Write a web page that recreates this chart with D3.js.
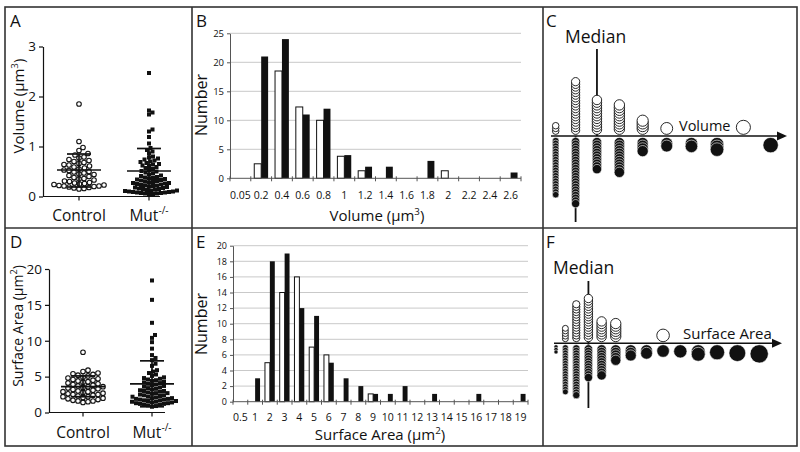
<!DOCTYPE html>
<html><head><meta charset="utf-8">
<script src="https://cdn.jsdelivr.net/npm/d3@7"></script>
<style>
body{margin:0;background:#fff}
svg{display:block}
text{font-family:'Open Sans',sans-serif;fill:#111}
</style></head>
<body><svg id="c" width="800" height="452"></svg>
<script>
// ---------------- DATA ----------------
const groups = ["Control", "Mut"];
const volTicks = [0, 1, 2, 3];
const saTicks = [0, 5, 10, 15, 20];

const controlVolume = [1.85,1.10,0.98,0.92,0.86,0.83,0.79,0.77,0.74,0.72,0.70,0.68,0.66,0.64,0.63,0.61,0.59,0.57,0.55,0.53,0.52,0.50,0.49,0.47,0.45,0.44,0.42,0.40,0.38,0.36,0.35,0.33,0.31,0.30,0.28,0.27,0.26,0.25,0.24,0.23,0.22,0.21,0.21,0.20,0.19,0.18,0.17,0.16,0.15];
const mutVolume = [2.47,1.72,1.68,1.64,1.34,1.30,1.19,1.06,0.97,0.93,0.90,0.86,0.80,0.78,0.76,0.74,0.72,0.70,0.69,0.67,0.65,0.64,0.62,0.61,0.59,0.57,0.55,0.53,0.51,0.50,0.48,0.46,0.44,0.42,0.41,0.39,0.38,0.37,0.36,0.35,0.34,0.33,0.32,0.31,0.30,0.29,0.28,0.27,0.27,0.26,0.25,0.24,0.23,0.22,0.22,0.21,0.20,0.19,0.18,0.17,0.16,0.15,0.15,0.14,0.13,0.12,0.12,0.11,0.10,0.10,0.09,0.09,0.08,0.08,0.07,0.07,0.06,0.06,0.05,0.05];
// [lower, mean, upper]
const controlVolStats = [0.19, 0.53, 0.85];
const mutVolStats = [0.08, 0.51, 0.96];

const controlSA = [8.4,5.9,5.7,5.5,5.4,5.3,5.2,5.1,4.9,4.8,4.7,4.6,4.5,4.4,4.3,4.2,4.1,4.0,3.9,3.8,3.7,3.6,3.6,3.5,3.4,3.3,3.2,3.1,3.0,2.9,2.9,2.8,2.7,2.6,2.5,2.5,2.4,2.3,2.2,2.2,2.1,2.0,1.9,1.8,1.7,1.6,1.6,1.5,1.4];
const mutSA = [18.4,15.7,12.5,10.8,10.4,9.8,8.9,8.0,7.6,7.3,6.8,6.5,5.9,5.7,5.5,5.3,5.1,4.9,4.8,4.7,4.6,4.5,4.4,4.3,4.2,4.1,4.0,3.9,3.8,3.7,3.6,3.5,3.4,3.3,3.2,3.1,3.0,3.0,2.9,2.8,2.7,2.7,2.6,2.5,2.4,2.4,2.3,2.2,2.2,2.1,2.0,2.0,1.9,1.9,1.8,1.8,1.7,1.7,1.6,1.6,1.5,1.5,1.4,1.4,1.3,1.3,1.2,1.2,1.1,1.1,1.0,0.9,0.8];
const controlSAStats = [2.2, 3.6, 5.1];
const mutSAStats = [0.8, 4.0, 7.2];

const volCats = ["0.05","0.2","0.4","0.6","0.8","1","1.2","1.4","1.6","1.8","2","2.2","2.4","2.6"];
const volControlCounts = [0,2.5,18.5,12.3,10,3.8,1.3,0,0,0,1.3,0,0,0];
const volMutCounts = [0,21,24,11,12,4,2,2,0,3,0,0,0,1];
const volCountTicks = [0,5,10,15,20,25];

const saCats = ["0.5","1","2","3","4","5","6","7","8","9","10","11","12","13","14","15","16","17","18","19"];
const saControlCounts = [0,0,5,14,16,7,6,0,0,1,0,0,0,0,0,0,0,0,0,0];
const saMutCounts = [0,3,18,19,12,11,5,3,2,1,1,2,0,1,0,0,1,0,0,1];
const saCountTicks = [0,2,4,6,8,10,12,14,16,18,20];

// ---------------- HELPERS ----------------
const svg = d3.select("#c");

function rich(t, parts, fs) {
  let up = false;
  parts.forEach(([s, sup]) => {
    const ts = t.append("tspan").text(s);
    if (sup && !up) { ts.attr("dy", -fs * 0.42).attr("font-size", fs * 0.65); up = true; }
    else if (sup) { ts.attr("font-size", fs * 0.65); }
    else if (!sup && up) { ts.attr("dy", fs * 0.42); up = false; }
  });
}

function swarm(values, y, cx, d) {
  const pts = values.map(v => ({ v, y: y(v) })).sort((a, b) => b.y - a.y);
  const placed = [];
  pts.forEach(p => {
    for (let k = 0; k < 400; k++) {
      const off = (k % 2 ? 1 : -1) * Math.ceil(k / 2) * 0.5;
      const x = cx + off;
      if (placed.every(q => { const dy = q.y - p.y, dx = q.x - x; return dx * dx + dy * dy >= d * d; })) { p.x = x; break; }
    }
    placed.push(p);
  });
  return placed;
}

// ---------------- FRAME ----------------
const frame = svg.append("g").attr("stroke", "#333").attr("stroke-width", 1.6).attr("fill", "none");
frame.append("rect").attr("x", 5).attr("y", 7).attr("width", 792).attr("height", 439);
frame.append("line").attr("x1", 192).attr("x2", 192).attr("y1", 7).attr("y2", 446);
frame.append("line").attr("x1", 543).attr("x2", 543).attr("y1", 7).attr("y2", 446);
frame.append("line").attr("x1", 5).attr("x2", 797).attr("y1", 228).attr("y2", 228);

const letters = [["A", 10, 27], ["B", 196, 27], ["C", 546, 27], ["D", 10, 248], ["E", 196, 248], ["F", 546, 248]];
svg.selectAll("text.letter").data(letters).join("text").attr("class", "letter")
  .attr("x", d => d[1]).attr("y", d => d[2]).attr("font-size", 17).text(d => d[0]);

// ---------------- SCATTER PANELS (A, D) ----------------
function scatterPanel(cfg) {
  const g = svg.append("g");
  const y = d3.scaleLinear().domain([0, cfg.ticks[cfg.ticks.length - 1]]).range([cfg.y0, cfg.y1]);
  const x = d3.scalePoint().domain(groups).range([cfg.cx0, cfg.cx1]);
  // y axis
  g.append("g").attr("transform", `translate(${cfg.ax},0)`)
    .call(d3.axisLeft(y).tickValues(cfg.ticks).tickFormat(d3.format("d")).tickSize(4).tickSizeOuter(0))
    .call(s => { s.selectAll("text").attr("font-size", 13.5).attr("font-family", "'Open Sans',sans-serif").attr("fill", "#111"); s.selectAll("line,path").attr("stroke", "#111").attr("stroke-width", 1.2); });
  // x axis
  g.append("line").attr("x1", cfg.ax).attr("x2", cfg.axEnd).attr("y1", y(0)).attr("y2", y(0)).attr("stroke", "#111").attr("stroke-width", 1.2);
  g.selectAll("line.xt").data(groups).join("line").attr("class", "xt")
    .attr("x1", d => x(d)).attr("x2", d => x(d)).attr("y1", y(0)).attr("y2", y(0) + 4).attr("stroke", "#111").attr("stroke-width", 1.2);
  const lab = g.selectAll("text.cat").data(groups).join("text").attr("class", "cat")
    .attr("x", d => x(d)).attr("y", cfg.labY).attr("text-anchor", "middle").attr("font-size", 15.5);
  lab.each(function (d) {
    const t = d3.select(this);
    if (d === "Mut") rich(t, [["Mut", 0], ["-/-", 1]], 15.5); else t.text(d);
  });
  // y title
  const yt = g.append("text").attr("transform", `translate(${cfg.titleX},${cfg.titleY}) rotate(-90)`)
    .attr("text-anchor", "middle").attr("font-size", cfg.titleFs);
  rich(yt, cfg.title, cfg.titleFs);
  // points
  const cp = swarm(cfg.control, y, x("Control"), 5.0);
  g.selectAll("circle.pc").data(cp).join("circle").attr("class", "pc")
    .attr("cx", d => d.x).attr("cy", d => d.y).attr("r", 2.3)
    .attr("fill", "#fff").attr("stroke", "#111").attr("stroke-width", 1.1);
  const mp = swarm(cfg.mut, y, x("Mut"), 3.9);
  g.selectAll("rect.pm").data(mp).join("rect").attr("class", "pm")
    .attr("x", d => d.x - 2).attr("y", d => d.y - 2).attr("width", 4).attr("height", 4).attr("fill", "#111");
  // error bars
  [["Control", cfg.cStats], ["Mut", cfg.mStats]].forEach(([grp, st]) => {
    const cx = x(grp);
    const e = g.append("g").attr("stroke", "#111").attr("stroke-width", 1.7);
    e.append("line").attr("x1", cx).attr("x2", cx).attr("y1", y(st[0])).attr("y2", y(st[2]));
    e.append("line").attr("x1", cx - 22).attr("x2", cx + 22).attr("y1", y(st[1])).attr("y2", y(st[1]));
    e.append("line").attr("x1", cx - 12).attr("x2", cx + 12).attr("y1", y(st[0])).attr("y2", y(st[0]));
    e.append("line").attr("x1", cx - 12).attr("x2", cx + 12).attr("y1", y(st[2])).attr("y2", y(st[2]));
  });
}

scatterPanel({ ticks: volTicks, y0: 196.5, y1: 46.5, ax: 43, axEnd: 160, cx0: 79, cx1: 149, labY: 221,
  control: controlVolume, mut: mutVolume, cStats: controlVolStats, mStats: mutVolStats,
  title: [["Volume (μm", 0], ["3", 1], [")", 0]], titleX: 24, titleY: 106, titleFs: 15 });
scatterPanel({ ticks: saTicks, y0: 412.5, y1: 269, ax: 49, axEnd: 165, cx0: 83, cx1: 152, labY: 438,
  control: controlSA, mut: mutSA, cStats: controlSAStats, mStats: mutSAStats,
  title: [["Surface Area (μm", 0], ["2", 1], [")", 0]], titleX: 23, titleY: 326, titleFs: 14 });

// ---------------- HISTOGRAMS (B, E) ----------------
function histPanel(cfg) {
  const g = svg.append("g");
  const x = d3.scaleBand().domain(cfg.cats).range([cfg.x0, cfg.x1]).paddingInner(0).paddingOuter(0);
  const sub = d3.scaleBand().domain(["c", "m"]).range([0, x.bandwidth()]).paddingInner(0).paddingOuter(0.5);
  const y = d3.scaleLinear().domain([0, cfg.ticks[cfg.ticks.length - 1]]).range([cfg.y0, cfg.y1]);
  g.selectAll("line.grid").data(cfg.ticks.slice(1)).join("line").attr("class", "grid")
    .attr("x1", cfg.x0).attr("x2", cfg.x1).attr("y1", d => y(d)).attr("y2", d => y(d))
    .attr("stroke", "#c9c9c9").attr("stroke-width", 1);
  g.append("g").attr("transform", `translate(${cfg.x0},0)`)
    .call(d3.axisLeft(y).tickValues(cfg.ticks).tickSize(3).tickSizeOuter(0))
    .call(s => { s.selectAll("text").attr("font-size", cfg.yFs).attr("font-family", "'Open Sans',sans-serif").attr("fill", "#222"); s.selectAll("line,path").attr("stroke", "#555").attr("stroke-width", 1); });
  const rows = cfg.cats.map((c, i) => ({ c, ctrl: cfg.ctrl[i], mut: cfg.mut[i] }));
  g.selectAll("rect.bc").data(rows.filter(d => d.ctrl > 0)).join("rect").attr("class", "bc")
    .attr("x", d => x(d.c) + sub("c")).attr("width", sub.bandwidth())
    .attr("y", d => y(d.ctrl)).attr("height", d => y(0) - y(d.ctrl))
    .attr("fill", "#fff").attr("stroke", "#111").attr("stroke-width", 1);
  g.selectAll("rect.bm").data(rows.filter(d => d.mut > 0)).join("rect").attr("class", "bm")
    .attr("x", d => x(d.c) + sub("m")).attr("width", sub.bandwidth())
    .attr("y", d => y(d.mut)).attr("height", d => y(0) - y(d.mut))
    .attr("fill", "#111");
  g.append("line").attr("x1", cfg.x0).attr("x2", cfg.x1).attr("y1", y(0)).attr("y2", y(0)).attr("stroke", "#555").attr("stroke-width", 1);
  const bounds = cfg.cats.map(c => x(c)).concat([cfg.x1]);
  g.selectAll("line.xt").data(bounds).join("line").attr("class", "xt")
    .attr("x1", d => d).attr("x2", d => d).attr("y1", y(0) - 2).attr("y2", y(0) + 3).attr("stroke", "#555").attr("stroke-width", 1);
  g.selectAll("text.xl").data(cfg.cats).join("text").attr("class", "xl")
    .attr("x", d => x(d) + x.bandwidth() / 2).attr("y", cfg.labY).attr("text-anchor", "middle")
    .attr("font-size", cfg.xFs).attr("fill", "#222").text(d => d);
  const xt = g.append("text").attr("x", cfg.titleX).attr("y", cfg.titleY).attr("text-anchor", "middle").attr("font-size", 15);
  rich(xt, cfg.title, 15);
  g.append("text").attr("transform", `translate(${cfg.yTitleX},${cfg.yTitleY}) rotate(-90)`)
    .attr("text-anchor", "middle").attr("font-size", 16).text("Number");
}

histPanel({ cats: volCats, ctrl: volControlCounts, mut: volMutCounts, ticks: volCountTicks,
  x0: 230, x1: 521, y0: 178.3, y1: 33.3, labY: 199, yFs: 9.5, xFs: 10.5,
  title: [["Volume (μm", 0], ["3", 1], [")", 0]], titleX: 377, titleY: 221, yTitleX: 207, yTitleY: 105 });
histPanel({ cats: saCats, ctrl: saControlCounts, mut: saMutCounts, ticks: saCountTicks,
  x0: 233, x1: 528, y0: 401.7, y1: 245.7, labY: 421, yFs: 9, xFs: 10.5,
  title: [["Surface Area (μm", 0], ["2", 1], [")", 0]], titleX: 380, titleY: 440, yTitleX: 207, yTitleY: 324 });

// ---------------- DOT STACK SCHEMATICS (C, F) ----------------
function stackPanel(cfg) {
  const g = svg.append("g");
  const cols = cfg.cats.map((c, i) => ({ v: +c, c: Math.round(cfg.ctrl[i]), m: Math.round(cfg.mut[i]), i }))
    .filter(d => d.c > 0 || d.m > 0);
  let x = cfg.x0;
  cols.forEach((d, k) => { d.r = cfg.rScale(d.v); if (k > 0) x += cols[k - 1].r + d.r + cfg.gap; d.x = x; });
  function medianIdx(arr) {
    const tot = d3.sum(arr); let cum = 0;
    for (let i = 0; i < arr.length; i++) { cum += arr[i]; if (cum > tot / 2) return i; }
  }
  const mc = cols.find(d => d.i === medianIdx(cfg.ctrl));
  const mm = cols.find(d => d.i === medianIdx(cfg.mut));
  g.append("line").attr("x1", mc.x).attr("x2", mc.x).attr("y1", cfg.axisY).attr("y2", cfg.medTop).attr("stroke", "#111").attr("stroke-width", 1.8);
  g.append("line").attr("x1", mm.x).attr("x2", mm.x).attr("y1", cfg.axisY).attr("y2", cfg.medBot).attr("stroke", "#111").attr("stroke-width", 1.8);
  g.append("text").attr("x", cfg.medX).attr("y", cfg.medY).attr("font-size", 17.5).text("Median");
  g.append("line").attr("x1", cfg.ax1).attr("x2", cfg.ax2 - 6).attr("y1", cfg.axisY).attr("y2", cfg.axisY).attr("stroke", "#111").attr("stroke-width", 1.6);
  g.append("path").attr("d", `M${cfg.ax2},${cfg.axisY} l-10,-4.5 l0,9 z`).attr("fill", "#111");
  g.append("text").attr("x", cfg.labX).attr("y", cfg.labY).attr("font-size", cfg.labFs).text(cfg.label);
  const step = cfg.step;
  cols.forEach(d => {
    for (let k = 0; k < d.c; k++) {
      g.append("circle").attr("cx", d.x).attr("cy", cfg.axisY - 1.6 - d.r - k * step).attr("r", d.r)
        .attr("fill", "#fff").attr("stroke", "#111").attr("stroke-width", 0.9);
    }
    for (let k = 0; k < d.m; k++) {
      g.append("circle").attr("cx", d.x).attr("cy", cfg.axisY + 1.4 + d.r + k * step).attr("r", d.r)
        .attr("fill", "#111").attr("stroke", "#fff").attr("stroke-width", 0.6);
    }
  });
}

stackPanel({ cats: volCats, ctrl: volControlCounts, mut: volMutCounts,
  rScale: d3.scalePow().exponent(1 / 3).domain([0, 1]).range([0, 5.6]),
  x0: 555.7, gap: 12.5, step: 2.7, axisY: 136, ax1: 551, ax2: 787,
  medTop: 49, medBot: 222, medX: 565, medY: 43, label: "Volume", labX: 679, labY: 131, labFs: 14.5 });
stackPanel({ cats: saCats, ctrl: saControlCounts, mut: saMutCounts,
  rScale: d3.scaleSqrt().domain([0, 1]).range([0, 2.1]),
  x0: 556, gap: 4.3, step: 2.6, axisY: 343.3, ax1: 554, ax2: 782,
  medTop: 281, medBot: 408, medX: 553, medY: 274, label: "Surface Area", labX: 683, labY: 339, labFs: 15 });
</script></body></html>
